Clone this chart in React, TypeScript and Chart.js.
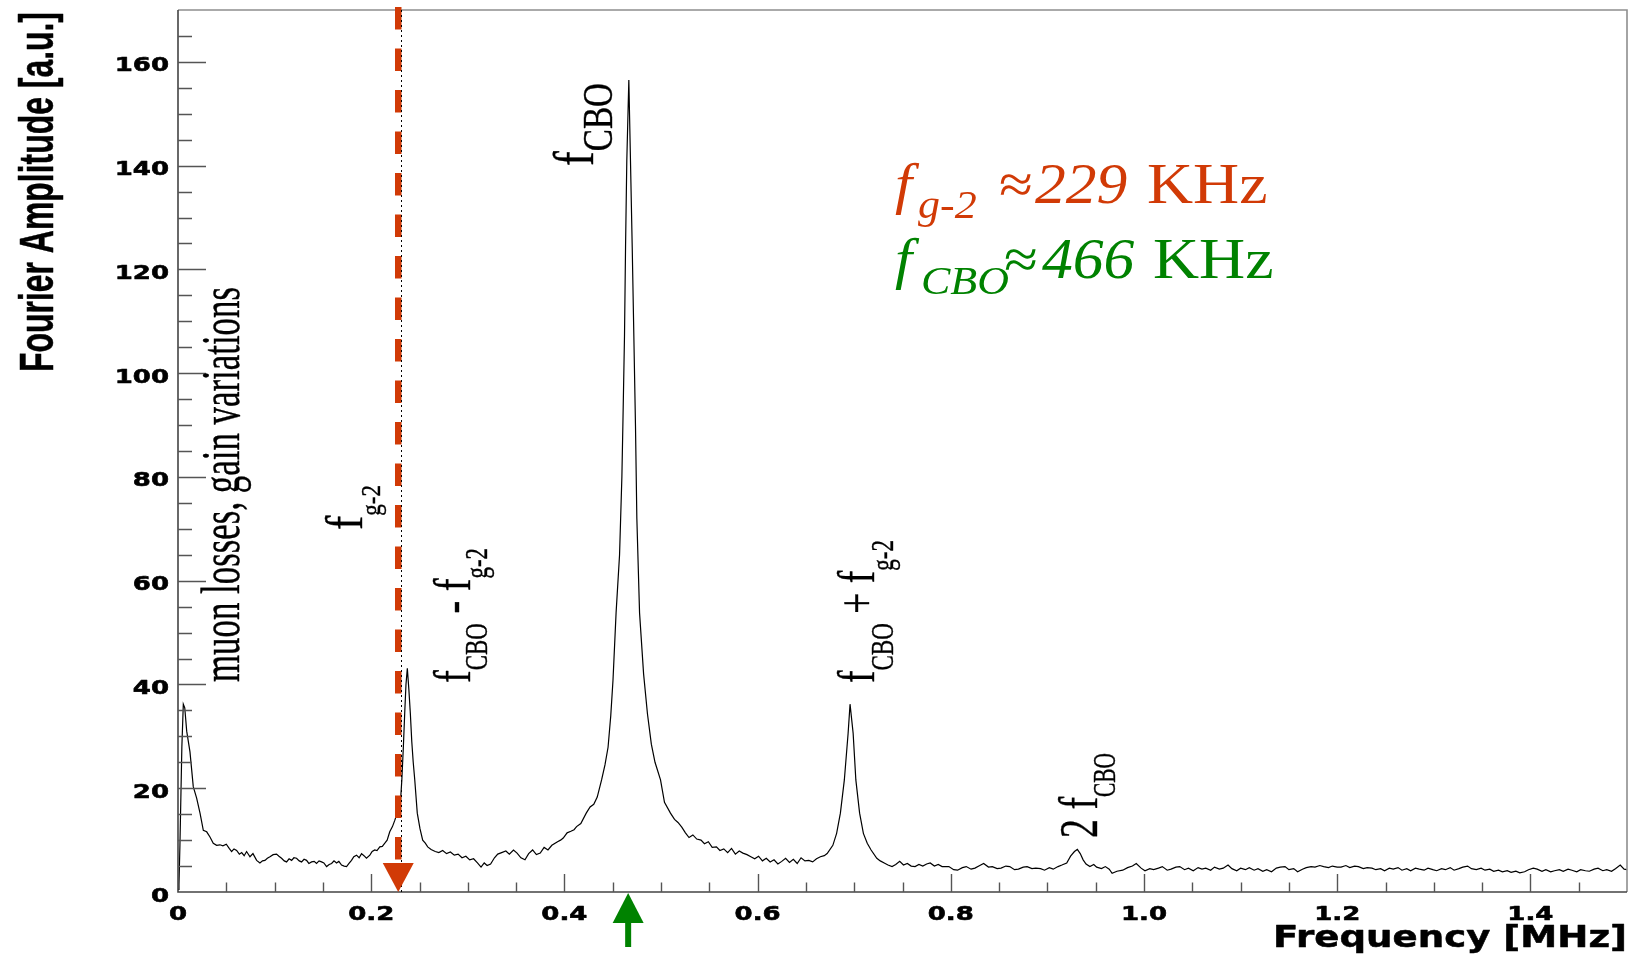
import React, { useEffect, useRef } from "react";
import { Chart, registerables } from "chart.js";

Chart.register(...registerables);

// ---------- data ----------
const X_MIN = 0;
const X_MAX = 1.5;
const Y_MIN = 0;
const Y_MAX = 170;

const X_MAJOR_TICKS = [0, 0.2, 0.4, 0.6, 0.8, 1.0, 1.2, 1.4];
const X_TICK_LABELS = ["0", "0.2", "0.4", "0.6", "0.8", "1.0", "1.2", "1.4"];
const X_MINOR_STEP = 0.05;
const Y_MAJOR_TICKS = [0, 20, 40, 60, 80, 100, 120, 140, 160];
const Y_TICK_LABELS = ["0", "20", "40", "60", "80", "100", "120", "140", "160"];
const Y_MINOR_STEP = 5;

const F_G2_MHZ = 0.228;
const F_CBO_MHZ = 0.466;

// [frequency MHz, Fourier amplitude a.u.]
const SPECTRUM: Array<[number, number]> = [
  [0.0, 0.5], [0.001, 1.5], [0.002, 9], [0.004, 28], [0.0055, 36.2], [0.007, 35.5], [0.009, 31],
  [0.0124, 27], [0.0158, 20.3], [0.0193, 18.1], [0.0228, 15.2], [0.0262, 11.9], [0.0297, 11.6],
  [0.0331, 10.6], [0.0365, 9.4], [0.04, 9.0], [0.0434, 9.1], [0.0465, 8.9], [0.05, 9.2], [0.053, 8.4],
  [0.0555, 7.8], [0.058, 8.3], [0.0607, 8.0], [0.0635, 7.3], [0.0659, 7.6], [0.0685, 7.0], [0.071, 7.8],
  [0.0745, 6.8], [0.0776, 7.4], [0.0814, 6.1], [0.0848, 5.6], [0.0875, 6.0], [0.09, 6.1], [0.0925, 6.5],
  [0.0952, 6.8], [0.0985, 7.2], [0.102, 7.3], [0.1045, 6.9], [0.1072, 6.5], [0.11, 6.0], [0.1124, 5.8],
  [0.115, 6.4], [0.1176, 6.1], [0.12, 6.6], [0.1227, 6.5], [0.1255, 6.0], [0.1279, 5.8], [0.1305, 6.3],
  [0.1331, 6.1], [0.1355, 5.5], [0.1383, 5.8], [0.141, 5.9], [0.1434, 5.5], [0.146, 6.0], [0.1486, 5.8],
  [0.151, 5.6], [0.1538, 4.9], [0.1565, 5.3], [0.159, 5.5], [0.1615, 6.0], [0.1641, 5.6], [0.1665, 5.9],
  [0.1693, 5.2], [0.172, 5.0], [0.1745, 4.9], [0.177, 5.5], [0.1796, 6.1], [0.182, 6.8], [0.1848, 7.1],
  [0.1875, 6.6], [0.19, 7.4], [0.1925, 7.0], [0.1951, 6.5], [0.1986, 7.1], [0.201, 7.8], [0.2037, 8.1],
  [0.206, 8.0], [0.2089, 8.7], [0.2115, 8.8], [0.2141, 9.4], [0.2165, 10.0], [0.2192, 11.6], [0.222, 12.6],
  [0.2244, 13.8], [0.2265, 15.0], [0.2285, 15.1], [0.23, 16.5], [0.2317, 21.6], [0.2333, 28], [0.2347, 34.5],
  [0.236, 40], [0.2374, 43.1], [0.239, 39], [0.2405, 34.5], [0.242, 29], [0.2435, 25], [0.2451, 21.6],
  [0.2477, 15.2], [0.2505, 12.2], [0.2533, 10.0], [0.256, 9.4], [0.2585, 8.7], [0.262, 8.2], [0.2663, 7.8],
  [0.27, 7.6], [0.274, 8.0], [0.278, 7.4], [0.282, 7.7], [0.286, 7.1], [0.29, 7.3], [0.294, 6.6],
  [0.298, 6.9], [0.302, 6.2], [0.306, 6.4], [0.31, 5.6], [0.3137, 4.8], [0.317, 5.6], [0.32, 5.1],
  [0.3236, 5.4], [0.3276, 6.6], [0.331, 7.3], [0.335, 7.6], [0.3394, 7.9], [0.343, 7.3], [0.3473, 8.1],
  [0.351, 7.5], [0.355, 6.6], [0.3592, 6.2], [0.363, 7.4], [0.3671, 8.1], [0.371, 7.2], [0.375, 7.5],
  [0.379, 8.6], [0.383, 8.1], [0.387, 9.0], [0.3929, 9.7], [0.396, 10.0], [0.3988, 10.4], [0.4028, 11.4],
  [0.4067, 11.7], [0.41, 12.0], [0.4126, 12.6], [0.417, 13.2], [0.4226, 15.2], [0.4266, 16.4],
  [0.4304, 16.9], [0.434, 18.3], [0.4385, 21.6], [0.442, 24.5], [0.4452, 27.9], [0.448, 34], [0.4503, 40.8],
  [0.4535, 53.8], [0.4571, 65], [0.4595, 80], [0.4605, 89.7], [0.4622, 107], [0.4633, 124.3], [0.4646, 141],
  [0.4667, 156.5], [0.4684, 141], [0.4702, 124.3], [0.4719, 107], [0.4736, 89.7], [0.475, 72], [0.4778, 53.8],
  [0.482, 42], [0.486, 34.3], [0.49, 28.5], [0.4938, 25], [0.4995, 21.6], [0.5036, 17.3], [0.5098, 15.2],
  [0.514, 14.0], [0.5176, 13.4], [0.5215, 12.5], [0.5253, 11.4], [0.529, 10.5], [0.533, 11.0], [0.537, 10.2],
  [0.5414, 10.0], [0.545, 9.3], [0.549, 9.7], [0.553, 8.6], [0.5574, 8.7], [0.561, 8.0], [0.565, 8.3],
  [0.569, 7.6], [0.573, 8.4], [0.577, 7.3], [0.581, 7.9], [0.5848, 7.5], [0.589, 7.2], [0.593, 6.8],
  [0.597, 6.4], [0.601, 6.9], [0.605, 6.0], [0.609, 6.5], [0.613, 5.8], [0.617, 6.2], [0.621, 5.4],
  [0.625, 5.9], [0.629, 6.5], [0.633, 5.7], [0.637, 6.3], [0.641, 5.5], [0.645, 6.6], [0.649, 6.0],
  [0.653, 6.1], [0.657, 5.8], [0.661, 6.4], [0.665, 6.8], [0.669, 7.0], [0.672, 7.4], [0.6779, 9.0],
  [0.6818, 11.3], [0.6857, 15.2], [0.6898, 21.6], [0.6937, 30.6], [0.6957, 36.2], [0.6989, 30.6],
  [0.7017, 21.6], [0.7056, 15.2], [0.7095, 11.3], [0.7135, 9.4], [0.7175, 8.1], [0.7234, 6.5], [0.727, 6.0],
  [0.7311, 5.6], [0.735, 5.2], [0.7392, 4.9], [0.743, 5.3], [0.7471, 5.9], [0.751, 5.2], [0.755, 5.5],
  [0.759, 5.0], [0.763, 4.9], [0.767, 5.3], [0.771, 5.0], [0.775, 5.4], [0.7787, 5.6], [0.783, 5.0],
  [0.787, 5.3], [0.791, 4.9], [0.7946, 4.9], [0.798, 4.9], [0.803, 4.3], [0.807, 4.2], [0.812, 4.7],
  [0.816, 4.9], [0.821, 4.4], [0.825, 4.6], [0.83, 5.1], [0.834, 5.5], [0.839, 4.8], [0.843, 4.9],
  [0.848, 4.5], [0.852, 4.6], [0.857, 5.0], [0.861, 4.9], [0.866, 4.3], [0.87, 4.4], [0.875, 4.8],
  [0.879, 4.9], [0.884, 4.5], [0.888, 4.6], [0.893, 4.5], [0.897, 4.2], [0.902, 4.7], [0.906, 4.4],
  [0.911, 4.9], [0.915, 5.2], [0.92, 5.6], [0.924, 6.9], [0.928, 7.8], [0.931, 8.2], [0.934, 7.4],
  [0.937, 6.2], [0.94, 5.4], [0.944, 4.9], [0.948, 5.3], [0.951, 4.8], [0.956, 4.5], [0.96, 4.9],
  [0.964, 4.4], [0.967, 3.6], [0.972, 4.0], [0.978, 4.2], [0.983, 4.7], [0.988, 5.0], [0.992, 5.5],
  [0.997, 4.6], [1.001, 4.1], [1.006, 4.5], [1.01, 4.3], [1.015, 4.6], [1.019, 4.9], [1.024, 4.2],
  [1.028, 4.4], [1.033, 4.8], [1.037, 4.9], [1.042, 4.3], [1.046, 4.6], [1.051, 4.1], [1.056, 4.7],
  [1.06, 4.4], [1.064, 4.6], [1.069, 4.2], [1.073, 4.8], [1.078, 4.4], [1.082, 4.6], [1.087, 5.2],
  [1.091, 4.5], [1.096, 4.1], [1.1, 4.6], [1.105, 4.3], [1.109, 4.7], [1.114, 4.2], [1.118, 4.5],
  [1.123, 4.0], [1.127, 4.3], [1.132, 3.9], [1.137, 4.6], [1.141, 4.8], [1.146, 4.9], [1.15, 4.3],
  [1.155, 4.5], [1.159, 3.9], [1.164, 4.4], [1.168, 4.7], [1.173, 4.9], [1.177, 4.8], [1.182, 5.1],
  [1.186, 4.9], [1.191, 4.7], [1.195, 5.0], [1.2, 4.8], [1.204, 4.8], [1.209, 5.1], [1.213, 4.7],
  [1.218, 5.0], [1.222, 4.9], [1.227, 4.5], [1.231, 4.7], [1.236, 4.6], [1.24, 4.3], [1.245, 4.5],
  [1.249, 4.1], [1.254, 4.6], [1.258, 4.4], [1.263, 4.7], [1.267, 4.2], [1.272, 4.5], [1.276, 4.1],
  [1.281, 4.6], [1.285, 4.4], [1.29, 4.2], [1.294, 4.6], [1.299, 4.3], [1.303, 4.1], [1.308, 4.5],
  [1.312, 4.3], [1.317, 4.7], [1.321, 4.2], [1.326, 4.5], [1.33, 4.8], [1.335, 5.0], [1.339, 4.5],
  [1.344, 4.3], [1.349, 4.6], [1.353, 4.2], [1.358, 4.4], [1.362, 4.0], [1.367, 4.2], [1.371, 3.9],
  [1.376, 4.1], [1.38, 3.8], [1.385, 4.0], [1.389, 3.7], [1.394, 3.9], [1.398, 4.3], [1.403, 4.6],
  [1.407, 4.4], [1.412, 4.0], [1.416, 4.3], [1.421, 3.9], [1.425, 4.1], [1.43, 4.3], [1.434, 4.0],
  [1.439, 4.4], [1.443, 4.2], [1.448, 3.9], [1.452, 4.3], [1.457, 4.1], [1.461, 4.0], [1.466, 4.4],
  [1.47, 4.6], [1.475, 4.1], [1.479, 4.3], [1.484, 4.0], [1.488, 4.5], [1.493, 5.2], [1.497, 4.4],
  [1.5, 4.3],
];

const RED = "#d13a06";
const GREEN = "#008200";

// ---------- text helpers ----------
type Seg = { t: string; sub?: boolean };

function drawScaled(
  ctx: CanvasRenderingContext2D,
  text: string,
  x: number,
  y: number,
  font: string,
  sx: number,
  align: "left" | "right" | "center",
  strokeW = 0
) {
  ctx.save();
  ctx.font = font;
  ctx.textAlign = "left";
  ctx.textBaseline = "alphabetic";
  const w = ctx.measureText(text).width * sx;
  const left = align === "right" ? x - w : align === "center" ? x - w / 2 : x;
  ctx.translate(left, y);
  ctx.scale(sx, 1);
  ctx.fillText(text, 0, 0);
  if (strokeW > 0) {
    ctx.lineWidth = strokeW;
    ctx.strokeStyle = ctx.fillStyle as string;
    ctx.lineJoin = "round";
    ctx.strokeText(text, 0, 0);
  }
  ctx.restore();
}

function drawFitted(
  ctx: CanvasRenderingContext2D,
  text: string,
  leftX: number,
  rightX: number,
  y: number,
  font: string,
  strokeW = 0
) {
  ctx.save();
  ctx.font = font;
  const w = ctx.measureText(text).width;
  const sx = (rightX - leftX) / w;
  ctx.translate(leftX, y);
  ctx.scale(sx, 1);
  ctx.textBaseline = "alphabetic";
  ctx.textAlign = "left";
  ctx.fillText(text, 0, 0);
  if (strokeW > 0) {
    ctx.lineWidth = strokeW;
    ctx.strokeStyle = ctx.fillStyle as string;
    ctx.lineJoin = "round";
    ctx.strokeText(text, 0, 0);
  }
  ctx.restore();
}

// Rotated (reading bottom to top) rich text fitted between startY and endY
function drawRotated(
  ctx: CanvasRenderingContext2D,
  segs: Seg[],
  baseX: number,
  startY: number,
  endY: number,
  mainFont: string,
  subFont: string,
  subShift: number,
  strokeW = 0
) {
  ctx.save();
  ctx.textAlign = "left";
  ctx.textBaseline = "alphabetic";
  const widths = segs.map((s) => {
    ctx.font = s.sub ? subFont : mainFont;
    return ctx.measureText(s.t).width;
  });
  const total = widths.reduce((a, b) => a + b, 0);
  const sx = (startY - endY) / total;
  ctx.translate(baseX, startY);
  ctx.rotate(-Math.PI / 2);
  ctx.scale(sx, 1);
  let x = 0;
  segs.forEach((s, i) => {
    ctx.font = s.sub ? subFont : mainFont;
    ctx.fillText(s.t, x, s.sub ? subShift : 0);
    if (strokeW > 0) {
      ctx.lineWidth = strokeW;
      ctx.strokeStyle = ctx.fillStyle as string;
      ctx.lineJoin = "round";
      ctx.strokeText(s.t, x, s.sub ? subShift : 0);
    }
    x += widths[i];
  });
  ctx.restore();
}

const SERIF = '"Liberation Serif", "Times New Roman", serif';
const SANS = '"DejaVu Sans", "Liberation Sans", Arial, sans-serif';
const HELV = '"Liberation Sans", Arial, sans-serif';

const rootStylePlugin = {
  id: "rootStyle",
  afterDraw(chart: any) {
    const ctx: CanvasRenderingContext2D = chart.ctx;
    const { left, right, top, bottom } = chart.chartArea;
    const xs = chart.scales.x;
    const ys = chart.scales.y;
    ctx.save();

    // frame
    ctx.lineWidth = 1.6;
    ctx.strokeStyle = "#8e8e8e";
    ctx.beginPath();
    ctx.moveTo(left, top);
    ctx.lineTo(right, top);
    ctx.lineTo(right, bottom);
    ctx.stroke();
    ctx.strokeStyle = "#444";
    ctx.lineWidth = 1.6;
    ctx.beginPath();
    ctx.moveTo(left, top);
    ctx.lineTo(left, bottom);
    ctx.lineTo(right, bottom);
    ctx.stroke();

    // ticks (inward, ROOT style)
    ctx.strokeStyle = "#555";
    ctx.lineWidth = 1.4;
    ctx.beginPath();
    for (let v = Y_MIN + Y_MINOR_STEP; v < Y_MAX; v += Y_MINOR_STEP) {
      const y = Math.round(ys.getPixelForValue(v)) + 0.5;
      const isMajor = Y_MAJOR_TICKS.some((m) => Math.abs(m - v) < 1e-6);
      ctx.moveTo(left, y);
      ctx.lineTo(left + (isMajor ? 28 : 14), y);
    }
    for (let v = X_MIN + X_MINOR_STEP; v < X_MAX - 1e-6; v += X_MINOR_STEP) {
      const x = Math.round(xs.getPixelForValue(v)) + 0.5;
      const isMajor = X_MAJOR_TICKS.some((m) => Math.abs(m - v) < 1e-6);
      ctx.moveTo(x, bottom);
      ctx.lineTo(x, bottom - (isMajor ? 18 : 9.5));
    }
    ctx.stroke();

    // tick labels (wide bold sans)
    ctx.fillStyle = "#000";
    const tickFont = `bold 20px ${SANS}`;
    Y_MAJOR_TICKS.forEach((v, i) => {
      const y = ys.getPixelForValue(v);
      drawScaled(ctx, Y_TICK_LABELS[i], left - 9, y + 9.5, tickFont, 1.3, "right", 0.6);
    });
    X_MAJOR_TICKS.forEach((v, i) => {
      const x = xs.getPixelForValue(v);
      drawScaled(ctx, X_TICK_LABELS[i], x, bottom + 28, tickFont, 1.3, "center", 0.6);
    });

    // axis titles
    drawFitted(ctx, "Frequency [MHz]", right - 354, right, bottom + 55, `bold 30px ${SANS}`, 0.5);
    drawRotated(
      ctx,
      [{ t: "Fourier Amplitude [a.u.]" }],
      53,
      372,
      12,
      `bold 49px ${HELV}`,
      `bold 49px ${HELV}`,
      0,
      0.5
    );

    // red dashed marker for f_g-2
    const xr = xs.getPixelForValue(F_G2_MHZ);
    const triH = 29;
    ctx.strokeStyle = RED;
    ctx.lineWidth = 6.5;
    ctx.setLineDash([22.5, 19]);
    ctx.lineDashOffset = 0;
    ctx.beginPath();
    ctx.moveTo(xr, top - 3);
    ctx.lineTo(xr, bottom - triH);
    ctx.stroke();
    ctx.setLineDash([]);
    // thin black dotted line
    ctx.strokeStyle = "#000";
    ctx.lineWidth = 1;
    ctx.setLineDash([2, 3]);
    ctx.beginPath();
    ctx.moveTo(Math.round(xr + 3) + 0.5, top);
    ctx.lineTo(Math.round(xr + 3) + 0.5, bottom);
    ctx.stroke();
    ctx.setLineDash([]);
    // red arrow head
    ctx.fillStyle = RED;
    ctx.beginPath();
    ctx.moveTo(xr, bottom);
    ctx.lineTo(xr - 15.5, bottom - triH);
    ctx.lineTo(xr + 15.5, bottom - triH);
    ctx.closePath();
    ctx.fill();

    // green arrow for f_CBO (below the axis)
    const xg = xs.getPixelForValue(F_CBO_MHZ);
    ctx.fillStyle = GREEN;
    ctx.beginPath();
    ctx.moveTo(xg, bottom + 1);
    ctx.lineTo(xg - 15.5, bottom + 31);
    ctx.lineTo(xg + 15.5, bottom + 31);
    ctx.closePath();
    ctx.fill();
    ctx.fillRect(xg - 3, bottom + 30, 6, 25);

    // rotated peak labels
    ctx.fillStyle = "#000";
    const m = (px: number) => `${px}px ${SERIF}`;
    drawRotated(ctx, [{ t: "muon losses, gain variations" }], 239, 682, 287, m(54), m(54), 0, 0.4);
    drawRotated(ctx, [{ t: "f" }, { t: "g-2", sub: true }], 362, 530, 485, m(52), m(28), 18, 0.4);
    drawRotated(ctx, [{ t: "f" }, { t: "CBO", sub: true }], 593, 166, 83, m(56), m(42), 19, 0.4);
    drawRotated(
      ctx,
      [{ t: "f" }, { t: "CBO", sub: true }, { t: " - f" }, { t: "g-2", sub: true }],
      470,
      683,
      548,
      m(52),
      m(31),
      17,
      0.4
    );
    drawRotated(
      ctx,
      [{ t: "f" }, { t: "CBO", sub: true }, { t: " + f" }, { t: "g-2", sub: true }],
      874,
      683,
      540,
      m(52),
      m(32),
      19,
      0.4
    );
    drawRotated(ctx, [{ t: "2 f" }, { t: "CBO", sub: true }], 1097, 838, 753, m(55), m(31), 18, 0.4);

    // frequency annotations
    const it = (px: number) => `italic ${px}px ${SERIF}`;
    const rg = (px: number) => `${px}px ${SERIF}`;
    ctx.fillStyle = RED;
    drawScaled(ctx, "f", 895, 203, it(56), 1.1, "left");
    drawScaled(ctx, "g-2", 918, 218, it(40), 1.1, "left");
    drawScaled(ctx, "\u2248", 999, 203, rg(56), 1.1, "left");
    drawScaled(ctx, "229", 1035, 203, it(56), 1.1, "left");
    drawScaled(ctx, "KHz", 1147, 203, rg(57), 1.12, "left");
    ctx.fillStyle = GREEN;
    drawScaled(ctx, "f", 895, 278, it(56), 1.1, "left");
    drawScaled(ctx, "CBO", 921, 294, it(40), 1.1, "left");
    drawScaled(ctx, "\u2248", 1004, 278, rg(56), 1.1, "left");
    drawScaled(ctx, "466", 1042, 278, it(56), 1.1, "left");
    drawScaled(ctx, "KHz", 1153, 278, rg(57), 1.12, "left");

    ctx.restore();
  },
};

export default function App() {
  const canvasRef = useRef<HTMLCanvasElement | null>(null);

  useEffect(() => {
    document.body.style.margin = "0";
    const canvas = canvasRef.current;
    if (!canvas) return;
    const chart = new Chart(canvas, {
      type: "line",
      data: {
        datasets: [
          {
            label: "Fourier amplitude",
            data: SPECTRUM.map(([f, a]) => ({ x: f, y: a })),
            borderColor: "#000",
            borderWidth: 1.2,
            pointRadius: 0,
            tension: 0,
            fill: false,
          },
        ],
      },
      options: {
        animation: false,
        responsive: false,
        devicePixelRatio: 1,
        layout: { padding: { left: 178, top: 10, right: 3, bottom: 68 } },
        plugins: { legend: { display: false }, tooltip: { enabled: false } },
        scales: {
          x: { type: "linear", min: X_MIN, max: X_MAX, display: false },
          y: { type: "linear", min: Y_MIN, max: Y_MAX, display: false },
        },
      },
      plugins: [rootStylePlugin],
    });
    return () => chart.destroy();
  }, []);

  return (
    <div style={{ position: "absolute", left: 0, top: 0, width: 1630, height: 960, background: "#fff" }}>
      <canvas ref={canvasRef} width={1630} height={960} style={{ width: 1630, height: 960, display: "block" }} />
    </div>
  );
}
